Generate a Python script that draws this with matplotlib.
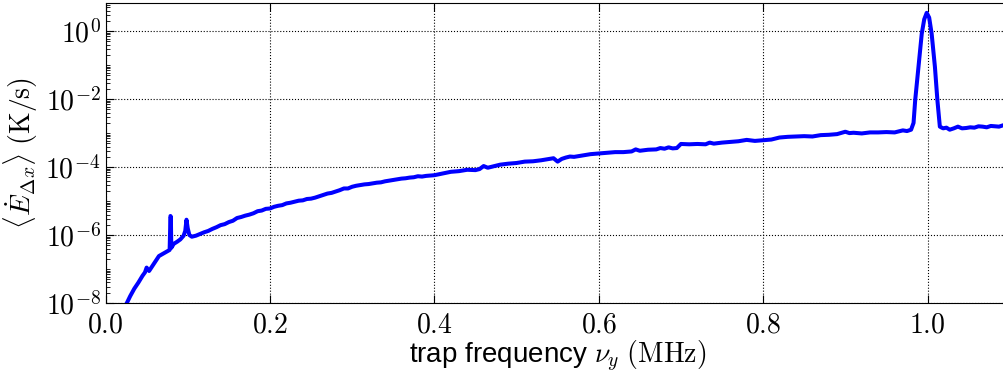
#!/usr/bin/env python3
"""Heating rate vs trap frequency, log scale."""

import matplotlib
matplotlib.use("Agg")
import matplotlib.pyplot as plt
import numpy as np
from matplotlib.ticker import FixedLocator, FuncFormatter, LogLocator, NullFormatter

plt.rcParams["font.family"] = ["Liberation Sans", "DejaVu Sans"]
plt.rcParams["mathtext.fontset"] = "cm"

# trap frequency nu_y (MHz)
freq_mhz = [
    0.025, 0.030, 0.035, 0.040, 0.045, 0.048, 0.050, 0.053, 0.056, 0.060,
    0.065, 0.070, 0.075, 0.078, 0.079, 0.0795, 0.080, 0.083, 0.087, 0.091,
    0.095, 0.097, 0.0985, 0.100, 0.102, 0.105, 0.110, 0.115, 0.120, 0.125,
    0.130, 0.135, 0.140, 0.145, 0.150, 0.155, 0.160, 0.165, 0.170, 0.175,
    0.180, 0.185, 0.190, 0.195, 0.200, 0.205, 0.210, 0.215, 0.220, 0.225,
    0.230, 0.235, 0.240, 0.245, 0.250, 0.255, 0.260, 0.265, 0.270, 0.275,
    0.280, 0.285, 0.290, 0.295, 0.300, 0.305, 0.310, 0.315, 0.320, 0.325,
    0.330, 0.335, 0.340, 0.345, 0.350, 0.355, 0.360, 0.365, 0.370, 0.375,
    0.380, 0.385, 0.390, 0.395, 0.400, 0.410, 0.420, 0.430, 0.440, 0.450,
    0.455, 0.460, 0.465, 0.470, 0.480, 0.490, 0.500, 0.510, 0.520, 0.530,
    0.540, 0.545, 0.550, 0.555, 0.560, 0.565, 0.570, 0.580, 0.590, 0.600,
    0.610, 0.620, 0.630, 0.640, 0.645, 0.650, 0.660, 0.670, 0.675, 0.680,
    0.685, 0.690, 0.695, 0.700, 0.710, 0.720, 0.730, 0.735, 0.740, 0.750,
    0.760, 0.770, 0.780, 0.790, 0.800, 0.810, 0.820, 0.830, 0.840, 0.850,
    0.860, 0.870, 0.880, 0.890, 0.900, 0.905, 0.910, 0.920, 0.930, 0.940,
    0.950, 0.960, 0.970, 0.975, 0.980, 0.983, 0.985, 0.989, 0.993, 0.996,
    0.999, 1.002, 1.005, 1.009, 1.012, 1.015, 1.019, 1.023, 1.027, 1.032,
    1.037, 1.042, 1.047, 1.052, 1.057, 1.062, 1.067, 1.072, 1.077, 1.082,
    1.087, 1.092, 1.100,
]

# log10 of <dE/dt> in K/s
log10_rate = [
    -8.05, -7.80, -7.58, -7.40, -7.20, -7.10, -6.96, -7.06, -6.95, -6.80,
    -6.62, -6.55, -6.48, -6.44, -5.44, -5.46, -6.38, -6.26, -6.20, -6.13,
    -6.02, -5.88, -5.55, -5.80, -6.00, -6.05, -6.02, -5.97, -5.92, -5.88,
    -5.82, -5.77, -5.71, -5.68, -5.62, -5.58, -5.50, -5.47, -5.43, -5.40,
    -5.36, -5.30, -5.28, -5.23, -5.22, -5.17, -5.14, -5.12, -5.07, -5.05,
    -5.02, -4.99, -4.98, -4.94, -4.93, -4.90, -4.86, -4.82, -4.78, -4.76,
    -4.72, -4.68, -4.63, -4.63, -4.58, -4.55, -4.53, -4.51, -4.50, -4.48,
    -4.46, -4.45, -4.42, -4.40, -4.38, -4.36, -4.34, -4.33, -4.31, -4.30,
    -4.27, -4.28, -4.26, -4.25, -4.24, -4.19, -4.14, -4.12, -4.08, -4.09,
    -4.06, -3.97, -4.02, -3.99, -3.93, -3.90, -3.88, -3.84, -3.83, -3.80,
    -3.76, -3.74, -3.84, -3.76, -3.72, -3.69, -3.70, -3.66, -3.62, -3.60,
    -3.58, -3.56, -3.56, -3.54, -3.48, -3.52, -3.49, -3.48, -3.44, -3.46,
    -3.42, -3.45, -3.44, -3.32, -3.33, -3.32, -3.33, -3.28, -3.31, -3.28,
    -3.26, -3.24, -3.20, -3.23, -3.21, -3.19, -3.13, -3.11, -3.10, -3.09,
    -3.10, -3.06, -3.05, -3.03, -2.96, -3.00, -2.99, -3.01, -2.98, -2.98,
    -2.97, -2.98, -2.92, -2.94, -2.90, -2.70, -2.03, -1.05, -0.07, 0.35,
    0.54, 0.40, -0.07, -1.05, -2.03, -2.81, -2.86, -2.84, -2.90, -2.86,
    -2.81, -2.86, -2.85, -2.83, -2.84, -2.80, -2.81, -2.83, -2.79, -2.80,
    -2.81, -2.77, -2.78,
]

y_major = [1e-8, 1e-6, 1e-4, 1e-2, 1e0]
x_major = [0.0, 0.2, 0.4, 0.6, 0.8, 1.0]

rate = 10 ** np.array(log10_rate)

fig = plt.figure(figsize=(10.04, 3.74), dpi=100)
ax = fig.add_axes([0.1051, 0.19, 0.9006, 0.802])

ax.plot(freq_mhz, rate, color="#0000ff", linewidth=2.9)
ax.set_yscale("log")
ax.set_xlim(0, 1.1)
ax.set_ylim(1e-8, 10 ** 0.83)

ax.yaxis.set_major_locator(FixedLocator(y_major))
ax.yaxis.set_minor_locator(LogLocator(base=10, subs=np.arange(1, 10), numticks=100))
ax.yaxis.set_minor_formatter(NullFormatter())
ax.yaxis.set_major_formatter(FuncFormatter(lambda v, _: r"$10^{%d}$" % round(np.log10(v))))
ax.set_xticks(x_major)
ax.xaxis.set_major_formatter(FuncFormatter(lambda v, _: r"$%.1f$" % v))

ax.tick_params(which="both", direction="in", top=True, right=True, labelsize=20)
ax.tick_params(which="major", length=6, width=0.8)
ax.tick_params(which="minor", length=3, width=0.6)
ax.tick_params(axis="x", pad=7)
ax.grid(True, which="major", color="black", linestyle=":", linewidth=0.8)

ax.set_xlabel(r"trap frequency $\nu_y$ $(\mathrm{MHz})$", fontsize=20, labelpad=0)
ax.set_ylabel(r"$\langle \dot{E}_{\Delta x} \rangle$ $(\mathrm{K/s})$", fontsize=20, labelpad=4)

fig.savefig("out.png", dpi=100)
